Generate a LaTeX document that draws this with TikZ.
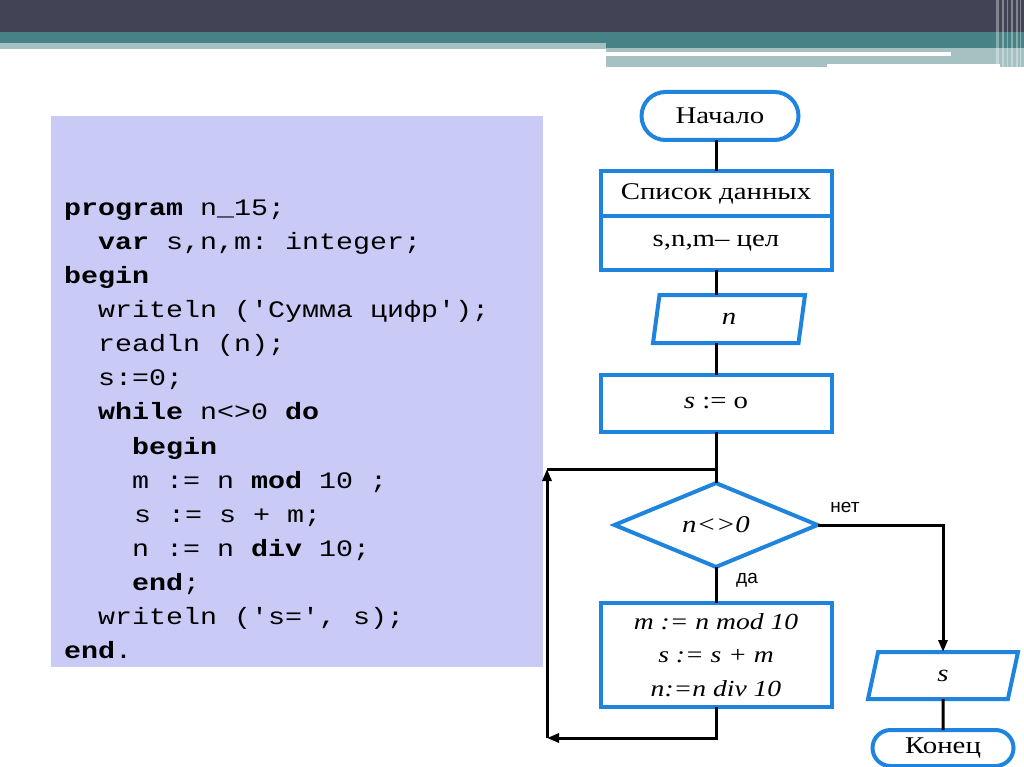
\documentclass[tikz,border=0pt]{standalone}
\usepackage{fontspec}
\setmainfont{Liberation Serif}[FakeStretch=1.2]
\setmonofont{Liberation Mono}[FakeStretch=1.2]
\newfontfamily\labfont{Liberation Sans}
\usetikzlibrary{shapes.geometric,shapes.misc,arrows.meta}
\definecolor{darkbar}{RGB}{67,67,86}
\definecolor{tealbar}{RGB}{70,130,134}
\definecolor{lighttl}{RGB}{166,193,193}
\definecolor{codebg}{RGB}{202,202,247}
\definecolor{fcblue}{RGB}{30,132,222}
\tikzset{
  codeline/.style={anchor=base west, inner sep=0pt, font=\ttfamily\fontsize{23.6}{34}\selectfont},
  fcshape/.style={draw=fcblue, line width=4pt, fill=white, inner sep=2pt, outer sep=0pt, font=\fontsize{24}{28}\selectfont},
  term/.style={fcshape, rounded rectangle},
  procbox/.style={fcshape, rectangle, minimum width=231},
  iobox/.style={fcshape, trapezium, trapezium stretches body},
  decbox/.style={fcshape, diamond},
  conn/.style={draw=black, line width=3pt},
  arr/.style={conn, -{Triangle[length=12pt,width=9pt]}},
  lab/.style={font=\labfont\fontsize{19}{22}\selectfont, inner sep=0pt}
}
\begin{document}
\begin{tikzpicture}[x=1pt,y=-1pt]
\useasboundingbox (0,0) rectangle (1024,767);
\clip (0,0) rectangle (1024,767);
% banner
\fill[darkbar] (0,0) rectangle (1024,32);
\fill[tealbar] (0,32) rectangle (1024,48);
\fill[lighttl] (0,43) rectangle (606,49);
\fill[lighttl] (606,48) rectangle (1024,64);
\fill[white] (606,52) rectangle (951,56);
\fill[lighttl] (606,64) rectangle (827,67);
\fill[lighttl] (1000,64) rectangle (1024,67);
\foreach \xa/\xb in {996/999,1002/1004,1007/1008,1011/1013,1016/1018,1020/1021}
  \fill[white, opacity=0.35] (\xa,0) rectangle (\xb,67);
% code panel
\node[fill=codebg, anchor=north west, inner sep=0pt, minimum width=492, minimum height=551] (code) at (51,116) {};
\node[codeline] (c1)  at (64,215)     {\textbf{program} n\_15;};
\node[codeline] (c2)  at (98,249.15)  {\textbf{var} s,n,m: integer;};
\node[codeline] (c3)  at (64,283.3)   {\textbf{begin}};
\node[codeline] (c4)  at (98,317.45)  {writeln ('Сумма цифр');};
\node[codeline] (c5)  at (98,351.6)   {readln (n);};
\node[codeline] (c6)  at (98,385.75)  {s:=0;};
\node[codeline] (c7)  at (98,419.9)   {\textbf{while} n<>0 \textbf{do}};
\node[codeline] (c8)  at (132,454.05) {\textbf{begin}};
\node[codeline] (c9)  at (132,488.2)  {m := n \textbf{mod} 10 ;};
\node[codeline] (c10) at (134,522.35) {s := s + m;};
\node[codeline] (c11) at (132,556.5)  {n := n \textbf{div} 10;};
\node[codeline] (c12) at (132,590.65) {\textbf{end};};
\node[codeline] (c13) at (98,624.8)   {writeln ('s=', s);};
\node[codeline] (c14) at (64,658.95)  {\textbf{end}.};
% flowchart
\node[term, minimum width=161, minimum height=48] (start) at (720,116) {Начало};
\node[procbox, minimum height=45] (data) at (716,193.5) {Список данных};
\node[procbox, minimum height=54] (types) at (716,243) {s,n,m– цел};
\node[iobox, trapezium left angle=67, trapezium right angle=113, minimum width=152, minimum height=48] (inp) at (729,319) {\textit{n}};
\node[procbox, minimum height=57] (s0) at (716,403.5) {\textit{s} := o};
\node[decbox, minimum width=203, minimum height=64, inner sep=0pt] (dec) at (716,525) {\textit{n<>0}};
\node[procbox, minimum height=104, align=center, font=\fontsize{23}{33.5}\selectfont\itshape] (body) at (716,655) {m := n mod 10\\ s := s + m\\ n:=n div 10};
\node[iobox, trapezium left angle=57, trapezium right angle=123, minimum width=150, minimum height=47] (out) at (943,675.5) {\textit{s}};
\node[term, minimum width=145, minimum height=36] (fin) at (943,748) {Конец};
\coordinate (loopbl) at (547,738);
\coordinate (looptl) at (547,469);
% connectors
\draw[conn] (start.south -| data.north) -- (data.north);
\draw[conn] (types.south) -- (types.south |- inp.north);
\draw[conn] (inp.south -| s0.north) -- (s0.north);
\draw[conn] (s0.south) -- (dec.north);
\draw[conn] (dec.south) -- (body.north);
\draw[arr] (body.south) -- (body.south |- loopbl) -- (loopbl);
\draw[arr] (loopbl) -- (looptl);
\draw[conn] (looptl) -- (looptl -| dec.north);
\draw[arr] (dec.east) -- (dec.east -| out.north) -- (out.north);
\draw[conn] (out.south) -- (fin.north);
\node[lab] (yes) at (747,580) {да};
\node[lab] (no) at (845,507) {нет};
\end{tikzpicture}
\end{document}
